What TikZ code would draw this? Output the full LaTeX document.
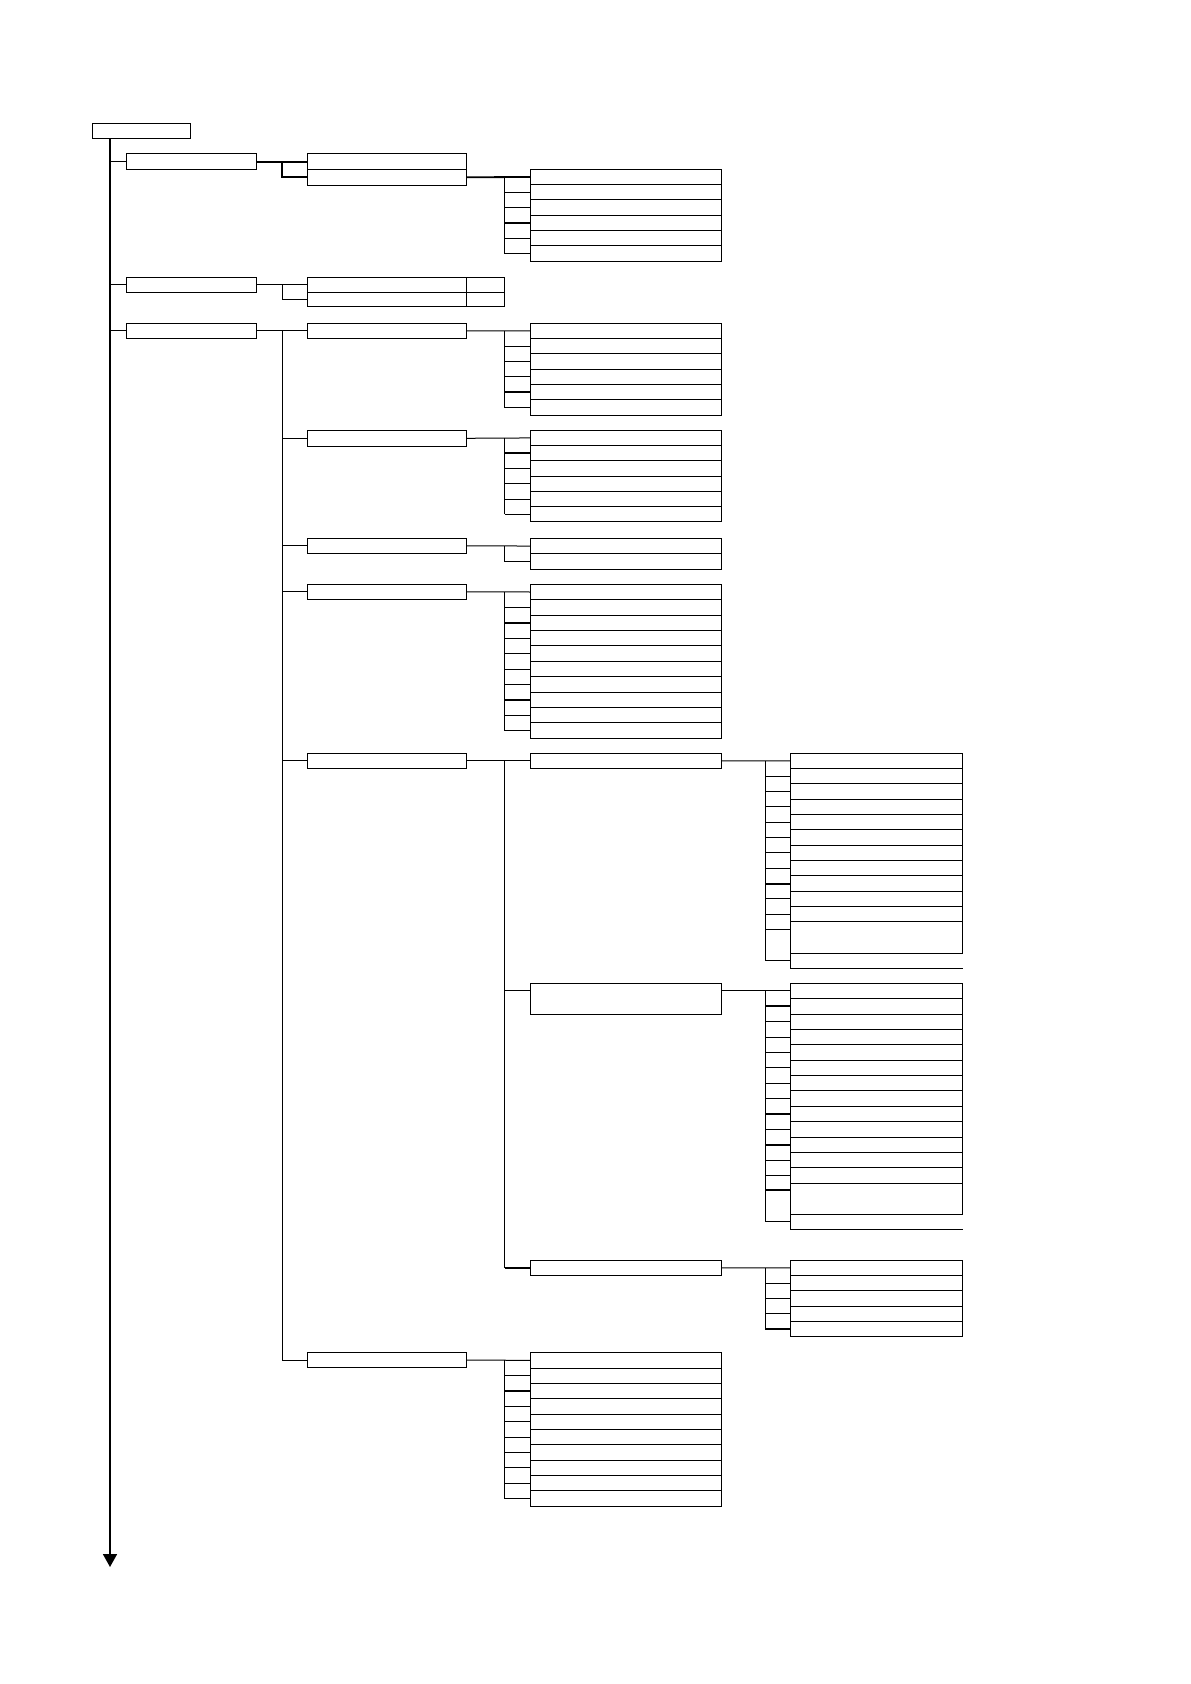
\documentclass[tikz,border=0pt]{standalone}
\usetikzlibrary{arrows.meta}
\tikzset{
  box/.style={draw, line width=0.5pt, inner sep=0pt, outer sep=0pt, rectangle},
  obox/.style={inner sep=0pt, outer sep=0pt, rectangle},
  conn/.style={line width=0.5pt},
  thk/.style={line width=0.9pt},
  trunk/.style={line width=0.9pt},
}
\newcommand\bx[6][box]{\node[#1, minimum width={(#5-#3)*0.5pt}, minimum height={(#6-#4)*0.5pt}] (#2) at ({(#3+#5)/2},{(#4+#6)/2}) {};}
\newcommand\mklist[6]{%
  \foreach \i in {1,...,#6}{%
    \pgfmathsetmacro\ya{#4+(\i-1)*#5}%
    \pgfmathsetmacro\yb{#4+\i*#5}%
    \bx{#1\i}{#2}{\ya}{#3}{\yb}%
  }}
\newcommand\ticks[4]{%
  \foreach \i in {#2,...,#3}{\draw[conn] (#1\i.west -| #4) -- (#1\i.west);}}
\newcommand\openbox[1]{\draw[conn] (#1.north west) -- (#1.south west) -- (#1.south east);}
\begin{document}
\begin{tikzpicture}[x=0.5pt,y=-0.5pt]
\useasboundingbox (0,0) rectangle (1190,1684);
\fill[white] (0,0) rectangle (1190,1684);

% bracket columns
\coordinate (T) at (110,138.3);
\coordinate (Tend) at (110,1567);
\coordinate (K1) at (282.3,0);
\coordinate (K2) at (504.7,0);
\coordinate (K3) at (765,0);

% root and trunk
\bx{root}{92.3}{123.3}{190.7}{138.3}
\draw[trunk,-{Triangle[width=7pt,length=6.5pt]}] (root.south -| T) -- (Tend);

% level 1
\bx{A}{126}{154}{256.7}{169.3}
\bx{B}{126}{277.3}{256.7}{292.3}
\bx{C}{126}{323.3}{256.7}{338.3}
\foreach \n in {A,B,C}{\draw[conn] (\n.west -| T) -- (\n.west);}

% group A
\bx{A1}{307.3}{154}{466.7}{169.3}
\bx{A2}{307.3}{169.3}{466.7}{185.3}
\draw[thk] (A.east) -- (A1.west);
\draw[thk] (A1.west -| K1) -- (A2.west -| K1) -- (A2.west);
\mklist{La}{530}{721.7}{169.3}{15.33}{6}
\draw[thk] (A2.east) -- (La1.west);
\draw[conn] (La1.west -| K2) -- (La6.west -| K2);
\ticks{La}{2}{6}{K2}
\draw[thk] (La4.west -| K2) -- (La4.west);

% group B
\bx{B1}{307.3}{277.3}{466.7}{292.3}
\bx{B2}{307.3}{292.3}{466.7}{307}
\bx{B1x}{466.7}{277.3}{504.3}{292.3}
\bx{B2x}{466.7}{292.3}{504.3}{307}
\draw[conn] (B.east) -- (B1.west);
\draw[conn] (B1.west -| K1) -- (B2.west -| K1) -- (B2.west);

% group C, level 2
\bx{C1}{307.3}{323.3}{466.7}{338.3}
\bx{C2}{307.3}{430.3}{466.7}{446.3}
\bx{C3}{307.3}{538.3}{466.7}{553.3}
\bx{C4}{307.3}{584.3}{466.7}{599.3}
\bx{C5}{307.3}{753.3}{466.7}{768.3}
\bx{C6}{307.3}{1352.7}{466.7}{1367.3}
\draw[conn] (C.east) -- (C1.west);
\draw[conn] (C1.west -| K1) -- (C6.west -| K1) -- (C6.west);
\foreach \n in {C2,C3,C4,C5}{\draw[conn] (\n.west -| K1) -- (\n.west);}

% C1 list
\mklist{Lb}{530}{721.7}{323.3}{15.33}{6}
\draw[conn] (C1.east) -- (Lb1.west);
\draw[conn] (Lb1.west -| K2) -- (Lb6.west -| K2);
\ticks{Lb}{2}{6}{K2}
\draw[thk] (Lb5.west -| K2) -- (Lb5.west);

% C2 list
\mklist{Lc}{530}{721.7}{430.3}{15.28}{6}
\draw[conn] (C2.east) -- (Lc1.west);
\draw[conn] (Lc1.west -| K2) -- (Lc6.west -| K2);
\ticks{Lc}{2}{6}{K2}
\draw[thk] (Lc2.west -| K2) -- (Lc2.west);

% C3 list
\mklist{Ld}{530}{721.7}{538.3}{15.5}{2}
\draw[conn] (C3.east) -- (Ld1.west);
\draw[conn] (Ld1.west -| K2) -- (Ld2.west -| K2) -- (Ld2.west);

% C4 list
\mklist{Le}{530}{721.7}{584.3}{15.4}{10}
\draw[conn] (C4.east) -- (Le1.west);
\draw[conn] (Le1.west -| K2) -- (Le10.west -| K2);
\ticks{Le}{2}{10}{K2}
\draw[thk] (Le3.west -| K2) -- (Le3.west);
\draw[thk] (Le8.west -| K2) -- (Le8.west);

% C5, level 3
\bx{C5a}{530}{753.3}{721.7}{768.3}
\bx{C5b}{530}{983.3}{721.7}{1014.3}
\bx{C5c}{530}{1260.3}{721.7}{1275.3}
\coordinate (C5bw) at ([yshift=-3.5pt]C5b.north west);
\coordinate (C5be) at ([yshift=-3.5pt]C5b.north east);
\draw[conn] (C5.east) -- (C5a.west);
\draw[conn] (C5a.west -| K2) -- (C5c.west -| K2);
\draw[conn] (C5bw -| K2) -- (C5bw);
\draw[thk] (C5c.west -| K2) -- (C5c.west);

% C5a list
\mklist{Lf}{790}{962.7}{753.3}{15.33}{11}
\bx{Lf12}{790}{921.93}{962.7}{953.3}
\bx[obox]{Lf13}{790}{953.3}{962.7}{968.3}
\openbox{Lf13}
\coordinate (Lf12t) at ([yshift=-4pt]Lf12.north west);
\draw[conn] (C5a.east) -- (Lf1.west);
\draw[conn] (Lf1.west -| K3) -- (Lf13.west -| K3);
\ticks{Lf}{2}{11}{K3}
\draw[conn] (Lf12t -| K3) -- (Lf12t);
\draw[conn] (Lf13.west -| K3) -- (Lf13.west);
\draw[thk] (Lf9.west -| K3) -- (Lf9.west);

% C5b list
\mklist{Lg}{790}{962.7}{983.3}{15.38}{13}
\bx{Lg14}{790}{1183.24}{962.7}{1214.3}
\bx[obox]{Lg15}{790}{1214.3}{962.7}{1229.3}
\openbox{Lg15}
\coordinate (Lg14t) at ([yshift=-3.2pt]Lg14.north west);
\draw[conn] (C5be) -- (C5be -| Lg1.west);
\draw[conn] (C5be -| K3) -- (Lg15.west -| K3);
\ticks{Lg}{2}{13}{K3}
\draw[conn] (Lg15.west -| K3) -- (Lg15.west);
\foreach \i in {2,9,11}{\draw[thk] (Lg\i.west -| K3) -- (Lg\i.west);}
\draw[thk] (Lg14t -| K3) -- (Lg14t);

% C5c list
\mklist{Lh}{790}{962.7}{1260.3}{15.33}{5}
\draw[conn] (C5c.east) -- (Lh1.west);
\draw[conn] (Lh1.west -| K3) -- (Lh5.west -| K3);
\ticks{Lh}{2}{5}{K3}
\draw[thk] (Lh5.west -| K3) -- (Lh5.west);

% C6 list
\mklist{Li}{530}{721.7}{1352.7}{15.36}{10}
\draw[conn] (C6.east) -- (Li1.west);
\draw[conn] (Li1.west -| K2) -- (Li10.west -| K2);
\ticks{Li}{2}{10}{K2}
\draw[thk] (Li3.west -| K2) -- (Li3.west);
\end{tikzpicture}
\end{document}
